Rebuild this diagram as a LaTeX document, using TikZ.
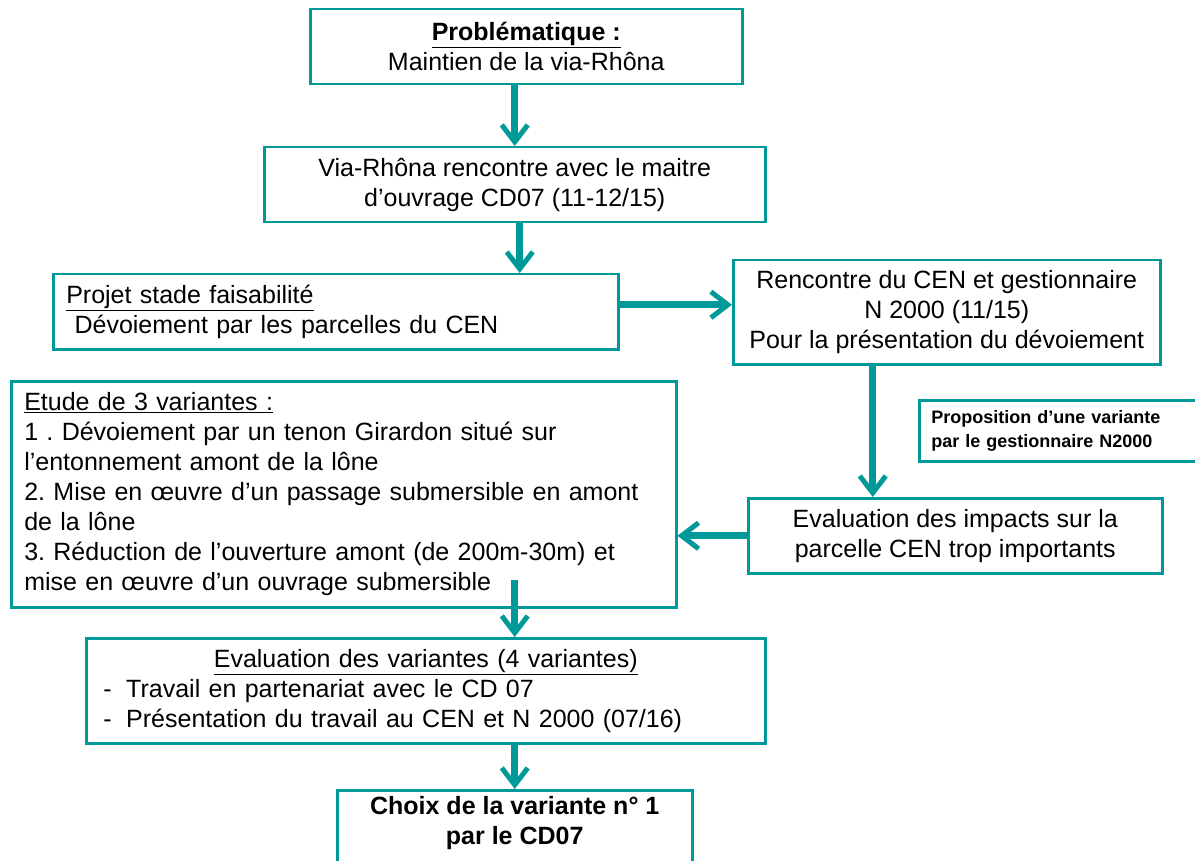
\documentclass[tikz,border=0pt]{standalone}
\usepackage{fontspec}
\setmainfont{Liberation Sans}
\usepackage{xcolor}
\usepackage{tikz}
\usetikzlibrary{calc}
\usetikzlibrary{positioning}
\usetikzlibrary{arrows.meta}
\definecolor{canard}{RGB}{0,153,153}
\frenchspacing

\begin{document}
\begin{tikzpicture}[x=1pt, y=-1pt,
    box/.style={draw=canard, line width=2.5pt, inner sep=0pt,
        font=\fontsize{25}{30}\selectfont, align=center, anchor=north west},
    leftbox/.style={box, align=left, inner xsep=13pt},
    flow/.style={draw=canard, line width=7pt,
        -{Straight Barb[length=17pt, width=26pt, line width=5pt]}}]

    \clip (0,0) rectangle (1195,861);

    % Boites du schema, placees au pixel pres
    \begin{scope}
        \node[box, minimum width=432pt, minimum height=75pt] (Pb) at (309,8)
        {\textbf{\underline{Problématique :}}\\ Maintien de la via-Rhôna};
        \node[box, minimum width=501pt, minimum height=75pt] (Via) at (263,146)
        {Via-Rhôna rencontre avec le maitre\\ d’ouvrage CD07 (11-12/15)};
        \node[leftbox, text width=539pt, minimum height=75pt] (Projet) at (52,273)
        {\underline{Projet stade faisabilité}\\ \ Dévoiement par les parcelles du CEN};
        \node[box, minimum width=427pt, minimum height=104pt] (CEN) at (732,259)
        {Rencontre du CEN et gestionnaire\\ N 2000 (11/15)\\
        Pour la présentation du dévoiement};
        \node[box, align=left, inner xsep=12pt, text width=258pt,
            minimum height=61pt, font=\fontsize{18}{24}\selectfont\bfseries]
            (Propo) at (918,399)
        {Proposition d’une variante\\ par le gestionnaire N2000};
        \node[box, minimum width=414pt, minimum height=75pt] (Impact) at (747,497)
        {Evaluation des impacts sur la\\ parcelle CEN trop importants};
        \node[leftbox, text width=639pt, minimum height=226pt] (Etude) at (10,380)
        {\underline{Etude de 3 variantes :}\\
        1 . Dévoiement par un tenon Girardon situé sur\\
        l’entonnement amont de la lône\\
        2. Mise en œuvre d’un passage submersible en amont\\
        de la lône\\
        3. Réduction de l’ouverture amont (de 200m-30m) et\\
        mise en œuvre d’un ouvrage submersible};
        \node[box, align=left, inner xsep=17pt, text width=645pt,
            minimum height=105pt] (Eval) at (85,637)
        {\makebox[645pt]{\underline{Evaluation des variantes (4 variantes)}}\\
        \makebox[23pt][l]{-}Travail en partenariat avec le CD 07\\
        \makebox[23pt][l]{-}Présentation du travail au CEN et N 2000 (07/16)};
        \node[box, minimum width=355pt, minimum height=100pt,
            font=\fontsize{25}{30}\selectfont\bfseries] (Choix) at (336,789)
        {Choix de la variante n° 1\\ par le CD07\\ \strut};
    \end{scope}

    % Fleches
    \path (Etude.south -| Choix.north) ++(0,-29) coordinate (E1);
    \begin{scope}
        \draw[flow] (Pb.south -| Via.north) -- (Via.north);
        \draw[flow] ([xshift=5pt]Via.south) -- ([xshift=5pt]Via.south |- Projet.north);
        \draw[flow] ([yshift=7pt]Projet.east) -- ([yshift=7pt]Projet.east -| CEN.west);
        \draw[flow] ([xshift=-74pt]CEN.south) -- ([xshift=-74pt]CEN.south |- Impact.north);
        \draw[flow] (Impact.west) -- (Impact.west -| Etude.east);
        \draw[flow] (E1) -- (E1 |- Eval.north);
        \draw[flow] (Eval.south -| Choix.north) -- (Choix.north);
    \end{scope}

\end{tikzpicture}
\end{document}
